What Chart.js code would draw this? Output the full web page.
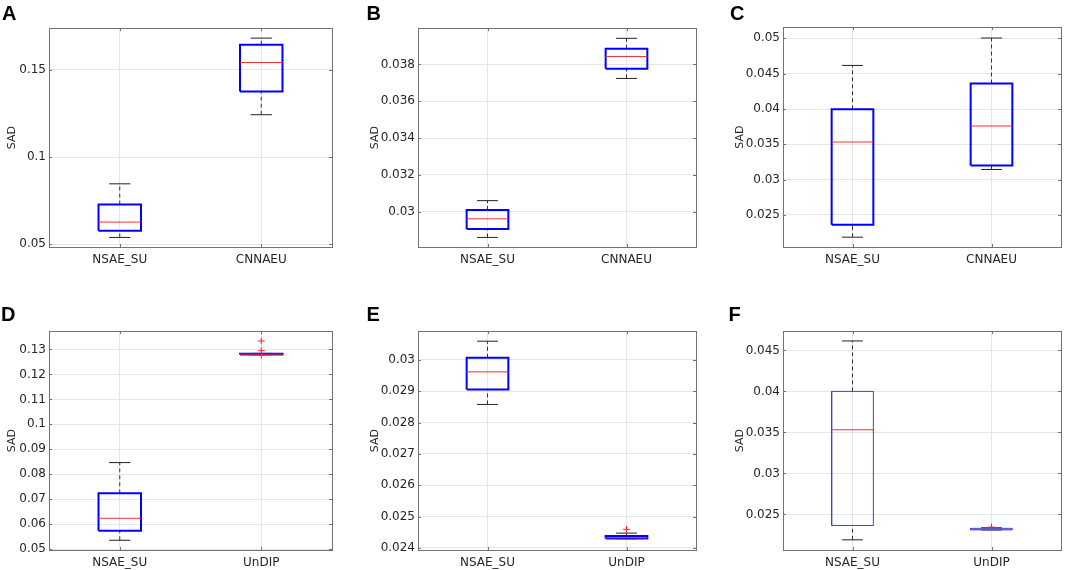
<!DOCTYPE html>
<html>
<head>
<meta charset="utf-8">
<script src="https://cdn.jsdelivr.net/npm/chart.js@4.4.1/dist/chart.umd.min.js"></script>
<style>
  body { margin: 0; background: #fff; width: 1065px; height: 570px; position: relative; overflow: hidden; }
  .panel { position: absolute; }
  .letter { position: absolute; font-family: "Liberation Sans", Arial, sans-serif; font-weight: bold; font-size: 20px; line-height: 1; color: #000; }
</style>
</head>
<body>
<script>
// Box plot statistics, one row per panel (A..F), one entry per method
const panelLetters = ['A', 'B', 'C', 'D', 'E', 'F'];
const methodsTop = ['NSAE_SU', 'CNNAEU'];
const methodsBottom = ['NSAE_SU', 'UnDIP'];

const whiskerLow    = [[0.0538, 0.1243], [0.0286, 0.03724], [0.02186, 0.03144], [0.0536, 0.1279], [0.02858, 0.02429], [0.0219, 0.02310]];
const lowerQuartile = [[0.0577, 0.1376], [0.02906, 0.03777], [0.02361, 0.0320], [0.0574, 0.1280], [0.02906, 0.024294], [0.02365, 0.02312]];
const medians       = [[0.0626, 0.1543], [0.02961, 0.03843], [0.03533, 0.0376], [0.0624, 0.1281], [0.02962, 0.02432], [0.03532, 0.02315]];
const upperQuartile = [[0.0727, 0.1645], [0.03009, 0.03885], [0.03996, 0.04361], [0.0724, 0.1283], [0.03007, 0.024375], [0.0400, 0.02330]];
const whiskerHigh   = [[0.0846, 0.1683], [0.0306, 0.03942], [0.04617, 0.05005], [0.0847, 0.1284], [0.0306, 0.02447], [0.04615, 0.02337]];
const outliers      = [[[], []], [[], []], [[], []], [[], [0.1334, 0.1295, 0.1277]], [[], [0.02459]], [[], [0.02345]]];

// Y axis ranges and tick labels
const yMin = [0.0483, 0.02808, 0.02047, 0.0497, 0.02393, 0.02066];
const yMax = [0.174, 0.03997, 0.05158, 0.1373, 0.03092, 0.04734];
const yTickLabels = [
  ['0.05', '0.1', '0.15'],
  ['0.03', '0.032', '0.034', '0.036', '0.038'],
  ['0.025', '0.03', '0.035', '0.04', '0.045', '0.05'],
  ['0.05', '0.06', '0.07', '0.08', '0.09', '0.1', '0.11', '0.12', '0.13'],
  ['0.024', '0.025', '0.026', '0.027', '0.028', '0.029', '0.03'],
  ['0.025', '0.03', '0.035', '0.04', '0.045']
];

// Page layout (pixel positions of each plot frame)
const frames = [
  { left: 0,   boxL: 49,  boxR: 332,  boxT: 24,  boxB: 247, lx: 2,     ly: 2.5 },
  { left: 363, boxL: 418, boxR: 696,  boxT: 24,  boxB: 247, lx: 366.5, ly: 2.5 },
  { left: 728, boxL: 783, boxR: 1061, boxT: 23,  boxB: 247, lx: 730,   ly: 2.5 },
  { left: 0,   boxL: 49,  boxR: 332,  boxT: 327, boxB: 550, lx: 1,     ly: 303.5 },
  { left: 363, boxL: 418, boxR: 696,  boxT: 327, boxB: 550, lx: 366.5, ly: 303.5 },
  { left: 728, boxL: 783, boxR: 1061, boxT: 327, boxB: 550, lx: 728.5, ly: 303.5 }
];

const BOX_HALF = 0.15;
const CAP_HALF = 0.075;

// MATLAB style frame with inward tick marks
const framePlugin = {
  id: 'frame',
  afterDraw(chart) {
    const { ctx, chartArea: a, scales } = chart;
    ctx.save();
    ctx.strokeStyle = '#737373';
    ctx.lineWidth = 1;
    ctx.beginPath();
    scales.y.ticks.forEach(t => {
      const py = Math.round(scales.y.getPixelForValue(t.value)) + 0.5;
      ctx.moveTo(a.left, py); ctx.lineTo(a.left + 3, py);
      ctx.moveTo(a.right, py); ctx.lineTo(a.right - 3, py);
    });
    scales.x.ticks.forEach(t => {
      const px = Math.round(scales.x.getPixelForValue(t.value)) + 0.5;
      ctx.moveTo(px, a.bottom); ctx.lineTo(px, a.bottom - 3);
      ctx.moveTo(px, a.top); ctx.lineTo(px, a.top + 3);
    });
    ctx.stroke();
    ctx.strokeRect(Math.round(a.left) + 0.5, Math.round(a.top) + 0.5,
      Math.round(a.right - a.left), Math.round(a.bottom - a.top));
    ctx.restore();
  }
};

function seg(points, color, width, dash) {
  return {
    data: points,
    showLine: true,
    borderColor: color,
    borderWidth: width,
    borderDash: dash || [],
    pointRadius: 0,
    pointHoverRadius: 0,
    tension: 0
  };
}

function panelDatasets(p) {
  const thin = p === 5;
  const boxColor = thin ? '#4040d8' : '#0000ff';
  const boxWidth = thin ? 1 : 2;
  const front = [];
  const boxes = [];
  const back = [];
  const outPts = [];
  for (let i = 0; i < 2; i++) {
    const x = i + 1;
    const lo = whiskerLow[p][i], q1 = lowerQuartile[p][i], md = medians[p][i];
    const q3 = upperQuartile[p][i], hi = whiskerHigh[p][i];
    front.push(seg([{ x: x - BOX_HALF, y: md }, { x: x + BOX_HALF, y: md }], '#f03030', 1));
    boxes.push(seg([
      { x: x - BOX_HALF, y: q1 }, { x: x + BOX_HALF, y: q1 },
      { x: x + BOX_HALF, y: q3 }, { x: x - BOX_HALF, y: q3 },
      { x: x - BOX_HALF, y: q1 }
    ], boxColor, boxWidth));
    back.push(seg([{ x: x, y: q3 }, { x: x, y: hi }], '#333333', 1, [4, 3]));
    back.push(seg([{ x: x, y: lo }, { x: x, y: q1 }], '#333333', 1, [4, 3]));
    back.push(seg([{ x: x - CAP_HALF, y: hi }, { x: x + CAP_HALF, y: hi }], '#222222', 1));
    back.push(seg([{ x: x - CAP_HALF, y: lo }, { x: x + CAP_HALF, y: lo }], '#222222', 1));
    outliers[p][i].forEach(v => outPts.push({ x: x, y: v }));
  }
  const outSet = {
    data: outPts,
    showLine: false,
    pointStyle: 'cross',
    pointRadius: 3.5,
    pointBorderColor: '#ff2020',
    pointBorderWidth: 1,
    pointBackgroundColor: '#ff2020'
  };
  // first dataset is drawn on top
  return [outSet, ...front, ...boxes, ...back];
}

function buildPanel(p) {
  const f = frames[p];
  const top = f.boxT - 6;
  const div = document.createElement('div');
  div.className = 'panel';
  div.style.left = f.left + 'px';
  div.style.top = top + 'px';
  div.style.width = (f.boxR + 5 - f.left) + 'px';
  div.style.height = (f.boxB + 24 - top) + 'px';
  const canvas = document.createElement('canvas');
  div.appendChild(canvas);
  document.body.appendChild(div);

  const letter = document.createElement('div');
  letter.className = 'letter';
  letter.style.left = f.lx + 'px';
  letter.style.top = f.ly + 'px';
  letter.textContent = panelLetters[p];
  document.body.appendChild(letter);

  const methods = p < 3 ? methodsTop : methodsBottom;
  const tickVals = yTickLabels[p].map(Number);
  const yAxisWidth = f.boxL - f.left;

  new Chart(canvas, {
    type: 'scatter',
    data: { datasets: panelDatasets(p) },
    options: {
      responsive: true,
      maintainAspectRatio: false,
      animation: false,
      events: [],
      layout: { padding: { top: 6, right: 5, left: 0, bottom: 0 } },
      plugins: { legend: { display: false }, tooltip: { enabled: false } },
      scales: {
        x: {
          type: 'linear',
          min: 0.5,
          max: 2.5,
          afterBuildTicks: axis => { axis.ticks = [{ value: 1 }, { value: 2 }]; },
          afterFit: axis => { axis.height = 24; },
          ticks: {
            callback: v => methods[Math.round(v) - 1],
            color: '#262626',
            font: { family: 'DejaVu Sans', size: 12 },
            padding: 6,
            maxRotation: 0,
            autoSkip: false
          },
          grid: { color: '#e6e6e6', drawTicks: false },
          border: { display: false }
        },
        y: {
          type: 'linear',
          min: yMin[p],
          max: yMax[p],
          afterBuildTicks: axis => { axis.ticks = tickVals.map(v => ({ value: v })); },
          afterFit: axis => { axis.width = yAxisWidth; },
          ticks: {
            callback: (v, i) => yTickLabels[p][i],
            color: '#262626',
            font: { family: 'DejaVu Sans', size: 12 },
            padding: 3,
            autoSkip: false
          },
          grid: { color: '#e6e6e6', drawTicks: false },
          border: { display: false },
          title: {
            display: true,
            text: 'SAD',
            color: '#262626',
            font: { family: 'DejaVu Sans', size: 11 },
            padding: { top: 6, bottom: 0 }
          }
        }
      }
    },
    plugins: [framePlugin]
  });
}

for (let p = 0; p < 6; p++) buildPanel(p);
</script>
</body>
</html>
